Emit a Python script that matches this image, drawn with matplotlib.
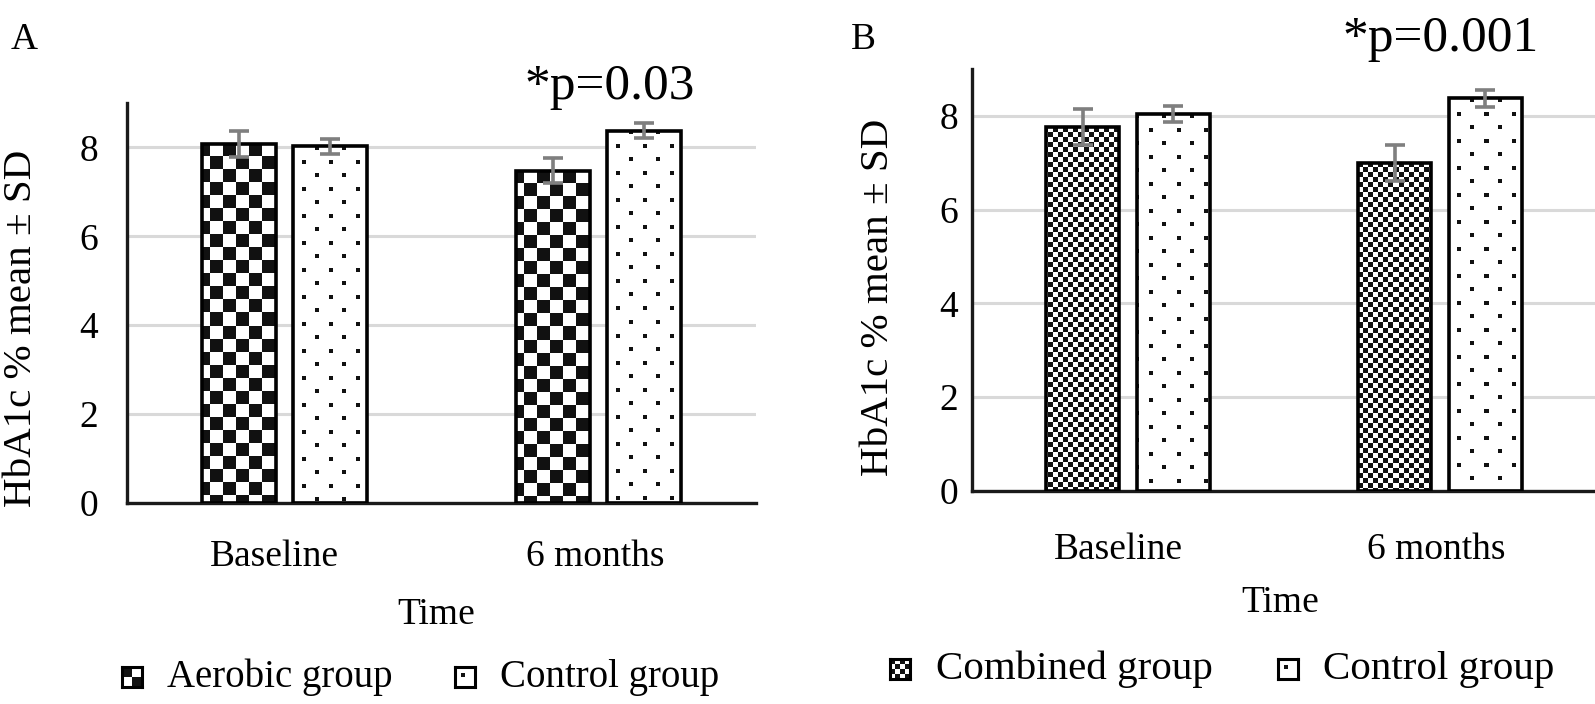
import numpy as np
import matplotlib
matplotlib.use("Agg")
import matplotlib.pyplot as plt
import matplotlib.transforms as mtransforms

plt.rcParams["font.family"] = ["Liberation Serif", "DejaVu Serif"]

# data
times = ["Baseline", "6 months"]
aerobic_mean = [8.08, 7.48]
aerobic_sd = [0.30, 0.29]
control_a_mean = [8.03, 8.38]
control_a_sd = [0.17, 0.17]
combined_mean = [7.76, 7.00]
combined_sd = [0.39, 0.38]
control_b_mean = [8.04, 8.38]
control_b_sd = [0.18, 0.18]
p_labels = ["*p=0.03", "*p=0.001"]

W, H = 1595, 704
fig = plt.figure(figsize=(W / 100, H / 100), dpi=100)


def px(x, y):
    return x / W, 1 - y / H


def pattern(kind, h, w, ox=0, oy=0):
    yy, xx = np.mgrid[0:h, 0:w]
    xx = xx + ox
    yy = yy + oy
    if kind == "checker":
        c = 13
        m = (xx // c + yy // c) % 2 == 0
    elif kind == "fine":
        c = 5
        m = (xx // c + yy // c) % 2 == 0
    else:
        p, d = 27, 4
        m = ((xx % p < d) & (yy % p < d)) | (((xx + 13) % p < d) & ((yy + 13) % p < d))
    img = np.ones((h, w, 3))
    img[m] = 0.07
    return img


def draw_panel(rect, left_kind, left_vals, left_sd, right_vals, right_sd, tick_pad):
    ax = fig.add_axes(rect)
    x = np.arange(len(times))
    off, bw = 0.145, 0.235
    ax.set_xlim(-0.5, 1.5)
    ax.set_ylim(0, 9)
    for dx, kind, vals in [(-off, left_kind, left_vals), (off, "dots", right_vals)]:
        bars = ax.bar(x + dx, vals, bw, color="white", edgecolor="none", zorder=2)
        for r in bars:
            bb = r.get_window_extent()
            w, h = int(round(bb.width)), int(round(bb.height))
            im = ax.imshow(pattern(kind, h, w, ox=int(bb.x0) % 7),
                           extent=(r.get_x(), r.get_x() + r.get_width(), 0, r.get_height()),
                           origin="upper", interpolation="nearest", aspect="auto", zorder=2.5)
            im.set_clip_path(r)
        ax.bar(x + dx, vals, bw, facecolor="none", edgecolor="black", linewidth=2.6, zorder=3)
    ax.errorbar(x - off, left_vals, yerr=left_sd, fmt="none", ecolor="#7f7f7f",
                elinewidth=2.6, capsize=7.5, capthick=2.6, zorder=5)
    ax.errorbar(x + off, right_vals, yerr=right_sd, fmt="none", ecolor="#7f7f7f",
                elinewidth=2.6, capsize=7.5, capthick=2.6, zorder=5)
    ax.set_xlim(-0.5, 1.5)
    ax.set_ylim(0, 9)
    ax.set_yticks([0, 2, 4, 6, 8])
    ax.yaxis.grid(True, color="#d9d9d9", linewidth=2.2)
    ax.set_axisbelow(True)
    ax.set_xticks([])
    ax.tick_params(axis="y", length=0, labelsize=27, pad=tick_pad)
    for s in ["top", "right"]:
        ax.spines[s].set_visible(False)
    for s in ["left", "bottom"]:
        ax.spines[s].set_linewidth(2.4)
        ax.spines[s].set_color("#1a1a1a")
    return ax


def legend_box(cx, cy, kind, ox=0, oy=0):
    s = 20
    lax = fig.add_axes([(cx - s / 2) / W, 1 - (cy + s / 2) / H, s / W, s / H])
    lax.imshow(pattern(kind, s, s, ox, oy), interpolation="nearest", aspect="auto")
    lax.set_xticks([])
    lax.set_yticks([])
    for sp in lax.spines.values():
        sp.set_linewidth(2.2)
        sp.set_color("black")


# panel A
axA = draw_panel([127 / W, 201 / H, 629 / W, 400 / H], "checker",
                 aerobic_mean, aerobic_sd, control_a_mean, control_a_sd, 21)
# panel B
axB = draw_panel([972 / W, 213 / H, 624 / W, 422 / H], "fine",
                 combined_mean, combined_sd, control_b_mean, control_b_sd, 10)

label_shift = [-10, -4]
for ax, base in [(axA, 566), (axB, 559)]:
    for i, t in enumerate(times):
        tr = mtransforms.blended_transform_factory(ax.transData, fig.transFigure)
        tr = tr + mtransforms.ScaledTranslation(label_shift[i] / 100, 0, fig.dpi_scale_trans)
        ax.text(i, 1 - base / H, t, transform=tr, ha="center", va="baseline", fontsize=27)

fig.text(*px(436, 624), "Time", ha="center", va="baseline", fontsize=27)
fig.text(*px(1280, 612), "Time", ha="center", va="baseline", fontsize=27)
fig.text(*px(22, 328), "HbA1c % mean \u00b1 SD", rotation=90, ha="center", va="center", fontsize=29.5)
fig.text(*px(879, 297), "HbA1c % mean \u00b1 SD", rotation=90, ha="center", va="center", fontsize=29.5)
fig.text(*px(11, 49), "A", ha="left", va="baseline", fontsize=27)
fig.text(*px(851, 49), "B", ha="left", va="baseline", fontsize=27)
fig.text(*px(610, 99), p_labels[0], ha="center", va="baseline", fontsize=37)
fig.text(*px(1441, 51), p_labels[1], ha="center", va="baseline", fontsize=37)

# legends
legend_box(132, 677, "checker", 3, 3)
fig.text(*px(167, 677), "Aerobic group", ha="left", va="center", fontsize=28)
legend_box(465, 677, "dots", 21, 21)
fig.text(*px(500, 677), "Control group", ha="left", va="center", fontsize=28)
legend_box(900, 669, "fine", 0, 0)
fig.text(*px(936, 669), "Combined group", ha="left", va="center", fontsize=29.5)
legend_box(1288, 669, "dots", 21, 21)
fig.text(*px(1323, 669), "Control group", ha="left", va="center", fontsize=29.5)

fig.savefig("out.png", dpi=100)
